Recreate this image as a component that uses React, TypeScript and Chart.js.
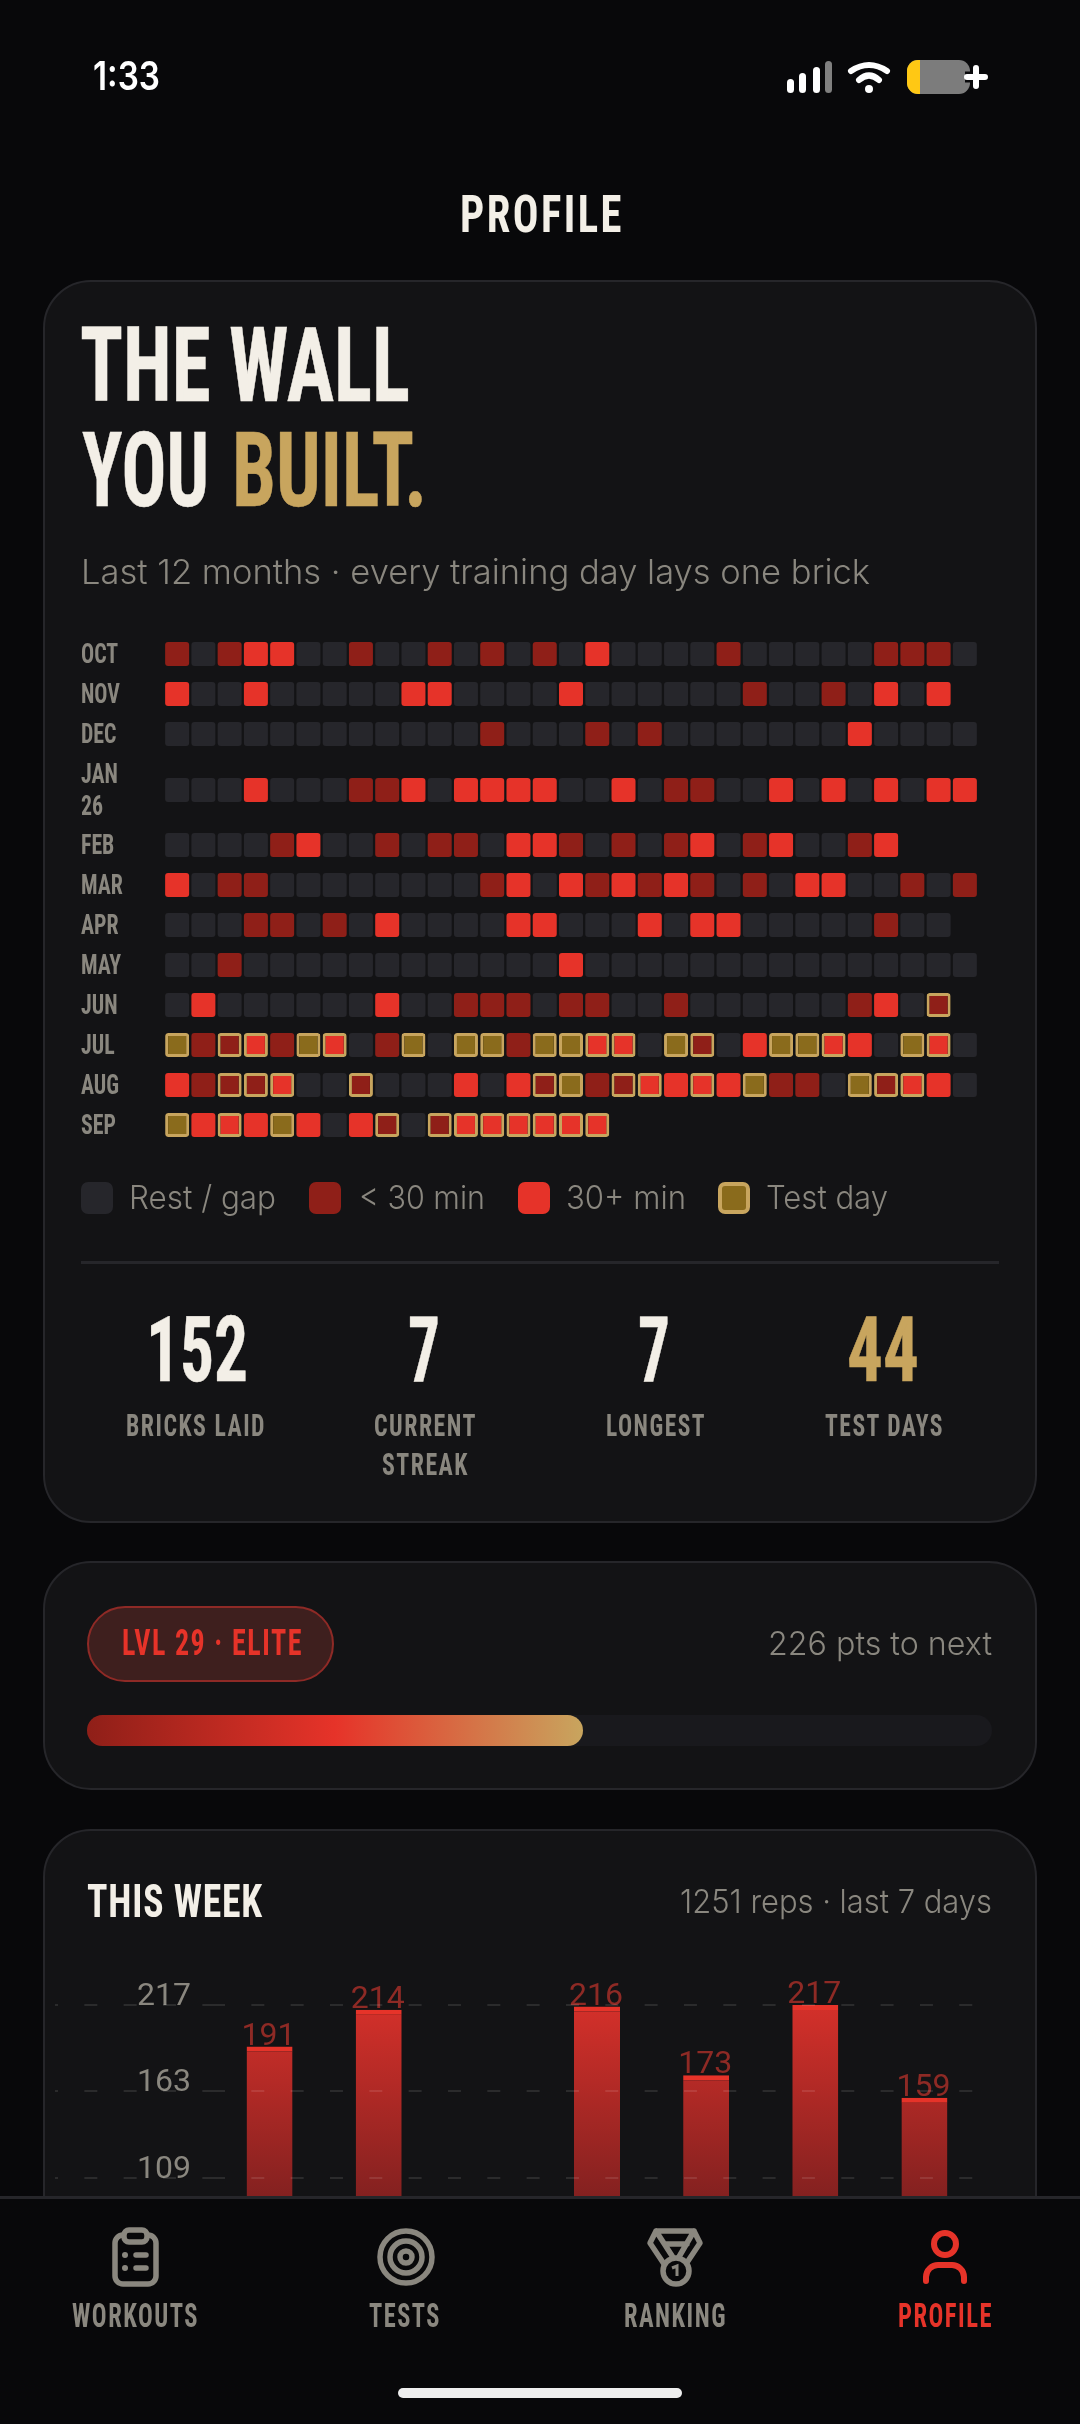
import React, { useEffect, useRef } from 'react';
import { Chart, registerables } from 'chart.js';

Chart.register(...registerables);

// . rest, s under 30 min, l 30+ min, t test only, S test + short, L test + long
const octDays = 's.sll..s..s.s.s.l....s.....sss.';
const novDays = 'l..l.....ll....l......s..s.l.l';
const decDays = '............s...s.s.......l....';
const janDays = '...l...ssl.llll..l.ss..l.l.l.ll';
const febDays = '....sl..s.ss.lls.s.sl.sl..sl';
const marDays = 'l.ss........sl.lslsls.s.ll..s.s';
const aprDays = '...ss.s.l....ll...l.ll.....s..';
const mayDays = '..s............l...............';
const junDays = '.l......l..sss.ss..s......sl.S';
const julDays = 'tsSLstL.st.ttsttLL.tS.lttLl.tL.';
const augDays = 'lsSSL..S...l.lStsSLlLltss.tSLl.';
const sepDays = 'tlLltl.lS.SLLLLLL';

const wallMonths = [octDays, novDays, decDays, janDays, febDays, marDays, aprDays, mayDays, junDays, julDays, augDays, sepDays];
const monthLabels = [['OCT'], ['NOV'], ['DEC'], ['JAN', '26'], ['FEB'], ['MAR'], ['APR'], ['MAY'], ['JUN'], ['JUL'], ['AUG'], ['SEP']];
const dayLabels = Array.from({ length: 31 }, (_, i) => String(i + 1));

const weekDays = ['1', '2', '3', '4', '5', '6', '7'];
const weekReps = [191, 214, 81, 216, 173, 217, 159];
const weekTicks = [0, 54, 109, 163, 217];

const levelProgress = 0.548;

const RED = '#e63329';
const DARK_RED = '#8f1f18';
const GOLD = '#c8a55e';
const OLIVE = '#8a6b1c';
const REST = '#26262b';
const CREAM = '#f3efe7';
const MUTED = '#8a877f';
const BG = '#08080a';
const CARD = '#131315';
const LINE = '#26262a';

const DISPLAY = '"Roboto Condensed", "Open Sans Condensed", sans-serif';
const BODY = 'Inter, sans-serif';

const wallKinds = [
    { code: '.', fill: REST, border: REST, width: 0 },
    { code: 's', fill: DARK_RED, border: DARK_RED, width: 0 },
    { code: 'l', fill: RED, border: RED, width: 0 },
    { code: 't', fill: OLIVE, border: GOLD, width: 3 },
    { code: 'S', fill: DARK_RED, border: GOLD, width: 3 },
    { code: 'L', fill: RED, border: GOLD, width: 3 }
];

// JAN wraps onto two lines, so the rows either side of it sit further apart
const rowValue = (i: number) => i + (i >= 3 ? 0.4 : 0) + (i >= 4 ? 0.375 : 0);

const monthLabelPlugin = {
    id: 'monthLabels',
    afterDraw(chart: any) {
        const { ctx, scales } = chart;
        monthLabels.forEach((lines, i) => {
            const py = scales.y.getPixelForValue(rowValue(i));
            lines.forEach((text, j) => {
                ctx.save();
                ctx.font = `700 28px ${DISPLAY}`;
                ctx.fillStyle = MUTED;
                ctx.textBaseline = 'alphabetic';
                ctx.translate(81, py + 9 - 16 * (lines.length - 1) + 32 * j);
                ctx.scale(0.78, 1);
                ctx.fillText(text, 0, 0);
                ctx.restore();
            });
        });
    }
};

function WallChart() {
    const canvasRef = useRef<HTMLCanvasElement>(null);

    useEffect(() => {
        if (!canvasRef.current) return;
        const datasets = wallKinds.map(kind => ({
            data: wallMonths.flatMap((days, row) =>
                days.split('').flatMap((code, day) =>
                    code === kind.code ? [{ x: dayLabels[day], y: [rowValue(row) - 0.3, rowValue(row) + 0.3] }] : []
                )
            ),
            backgroundColor: kind.fill,
            borderColor: kind.border,
            borderWidth: kind.width,
            borderSkipped: false,
            borderRadius: 3,
            inflateAmount: 0,
            barThickness: 24,
            grouped: false
        }));
        const chart = new Chart(canvasRef.current, {
            type: 'bar',
            data: { labels: dayLabels, datasets } as any,
            options: {
                animation: false,
                responsive: false,
                devicePixelRatio: 1,
                layout: { padding: { left: 164, right: 102, top: 14, bottom: 5 } },
                plugins: { legend: { display: false }, tooltip: { enabled: false } },
                scales: {
                    x: { display: false, offset: true },
                    y: { display: false, reverse: true, min: -0.5, max: rowValue(11) + 0.5 }
                }
            } as any,
            plugins: [monthLabelPlugin]
        });
        return () => chart.destroy();
    }, []);

    return <canvas ref={canvasRef} width={1080} height={530} style={{ position: 'absolute', left: 0, top: 620 }} />;
}

const valueLabelPlugin = {
    id: 'valueLabels',
    afterDatasetsDraw(chart: any) {
        const { ctx } = chart;
        chart.getDatasetMeta(0).data.forEach((bar: any, i: number) => {
            ctx.save();
            ctx.font = '400 32px Roboto, sans-serif';
            ctx.fillStyle = '#8e2a25';
            ctx.textAlign = 'center';
            ctx.textBaseline = 'alphabetic';
            ctx.fillText(String(weekReps[i]), bar.x - 1, bar.y - 2);
            ctx.restore();
        });
    }
};

function WeekChart() {
    const canvasRef = useRef<HTMLCanvasElement>(null);

    useEffect(() => {
        if (!canvasRef.current) return;
        const chart = new Chart(canvasRef.current, {
            type: 'bar',
            data: {
                labels: weekDays,
                datasets: [
                    {
                        data: weekReps,
                        barThickness: 46,
                        inflateAmount: 0,
                        borderColor: RED,
                        borderWidth: { top: 5, left: 0, right: 0, bottom: 0 },
                        borderSkipped: false,
                        backgroundColor: (c: any) => {
                            const area = c.chart.chartArea;
                            if (!area) return RED;
                            const g = c.chart.ctx.createLinearGradient(0, area.top, 0, area.bottom);
                            g.addColorStop(0, '#d4302a');
                            g.addColorStop(0.55, '#842120');
                            g.addColorStop(1, '#4a1715');
                            return g;
                        }
                    }
                ]
            } as any,
            options: {
                animation: false,
                responsive: false,
                devicePixelRatio: 1,
                layout: { padding: { top: 45, right: 15, bottom: 20 } },
                plugins: { legend: { display: false }, tooltip: { enabled: false } },
                scales: {
                    x: { display: false },
                    y: {
                        min: 0,
                        max: 217,
                        afterBuildTicks: (s: any) => {
                            s.ticks = weekTicks.map(value => ({ value }));
                        },
                        afterFit: (s: any) => {
                            s.width = 171;
                        },
                        border: { display: false, dash: [13, 26.33], dashOffset: 3 },
                        grid: {
                            z: 1,
                            color: 'rgba(255,255,255,0.1)',
                            lineWidth: 2,
                            tickLength: 160,
                            tickColor: 'rgba(255,255,255,0.1)',
                            tickWidth: 2,
                            tickBorderDash: [13, 26.33],
                            tickBorderDashOffset: 10
                        },
                        ticks: {
                            autoSkip: false,
                            color: MUTED,
                            padding: -136,
                            labelOffset: -8,
                            font: { family: 'Roboto, sans-serif', size: 32, weight: '400' },
                            callback: (v: any) => String(v)
                        }
                    }
                }
            } as any,
            plugins: [valueLabelPlugin]
        });
        return () => chart.destroy();
    }, []);

    return <canvas ref={canvasRef} width={950} height={412} style={{ position: 'absolute', left: 44, top: 1960 }} />;
}

function Card({ top, height }: { top: number; height: number }) {
    return (
        <div
            style={{
                position: 'absolute',
                left: 43,
                top,
                width: 994,
                height,
                boxSizing: 'border-box',
                background: CARD,
                border: `2.5px solid ${LINE}`,
                borderRadius: 48
            }}
        />
    );
}

function Txt({ x, y, w, size, color = CREAM, font = DISPLAY, weight = 700, spacing = 0, bold = 0, children }: any) {
    return (
        <text
            x={x}
            y={y}
            textLength={w + spacing}
            lengthAdjust="spacingAndGlyphs"
            fontFamily={font}
            fontWeight={weight}
            fontSize={size}
            fill={color}
            stroke={bold ? color : 'none'}
            strokeWidth={bold}
            letterSpacing={spacing}
        >
            {children}
        </text>
    );
}

function Swatch({ x, fill, border }: { x: number; fill: string; border?: string }) {
    return (
        <div
            style={{
                position: 'absolute',
                left: x,
                top: 1182,
                width: 32,
                height: 32,
                boxSizing: 'border-box',
                borderRadius: 7,
                background: fill,
                border: border ? `4px solid ${border}` : 'none'
            }}
        />
    );
}

const overlay: React.CSSProperties = { position: 'absolute', left: 0, top: 0 };

export default function App() {
    useEffect(() => {
        document.body.style.margin = '0';
        document.body.style.background = BG;
    }, []);

    return (
        <div style={{ position: 'relative', width: 1080, height: 2424, overflow: 'hidden', background: BG }}>
            <Card top={280} height={1243} />
            <Card top={1561} height={229} />
            <Card top={1829} height={500} />

            <Swatch x={81} fill={REST} />
            <Swatch x={309} fill={DARK_RED} />
            <Swatch x={518} fill={RED} />
            <Swatch x={718} fill={OLIVE} border={GOLD} />
            <div style={{ position: 'absolute', left: 81, top: 1261, width: 918, height: 2.5, background: LINE }} />

            <div
                style={{
                    position: 'absolute',
                    left: 87,
                    top: 1606,
                    width: 247,
                    height: 76,
                    boxSizing: 'border-box',
                    borderRadius: 38,
                    background: '#3e1f1e',
                    border: '2.5px solid #8e2a26'
                }}
            />
            <div style={{ position: 'absolute', left: 87, top: 1715, width: 905, height: 31, borderRadius: 15.5, background: '#19191d' }}>
                <div
                    style={{
                        width: `${levelProgress * 100}%`,
                        height: '100%',
                        borderRadius: 15.5,
                        background: `linear-gradient(90deg, ${DARK_RED}, ${RED} 50%, ${GOLD})`
                    }}
                />
            </div>

            <WallChart />
            <WeekChart />

            <svg width={1080} height={2424} style={overlay}>
                <Txt x={93} y={90} w={67} size={39} color="#fff" font={BODY} weight={600}>1:33</Txt>
                <g fill="#fff">
                    <rect x={787} y={79} width={7} height={14} rx={3.5} />
                    <rect x={799} y={73} width={7} height={20} rx={3.5} />
                    <rect x={813} y={67} width={7} height={26} rx={3.5} />
                    <rect x={825} y={61} width={7} height={32} rx={3.5} fill="#808080" />
                    <circle cx={869} cy={89} r={4} />
                </g>
                <g fill="none" stroke="#fff" strokeWidth={6} strokeLinecap="round">
                    <path d="M851 71 Q869 59 887 71" />
                    <path d="M859 80 Q869 71 879 80" />
                </g>
                <rect x={907} y={60} width={63} height={34} rx={11} fill="#7c7c7c" />
                <path d="M920 60 H918 a11 11 0 0 0 -11 11 V83 a11 11 0 0 0 11 11 H920 Z" fill="#ffc814" />
                <path d="M976 66 V88 M965 77 H987" stroke={BG} strokeWidth={11} />
                <path d="M976 68 V86 M967 77 H985" stroke="#fff" strokeWidth={6} strokeLinecap="round" />

                <Txt x={460} y={232} w={161} size={52} spacing={3}>PROFILE</Txt>
                <Txt x={80} y={401} w={330} size={104} bold={0.5}>THE WALL</Txt>
                <Txt x={82} y={506} w={127} size={104} bold={0.5}>YOU</Txt>
                <Txt x={232} y={506} w={195} size={104} color={GOLD} bold={0.5}>BUILT.</Txt>
                <Txt x={81} y={584} w={789} size={34} color={MUTED} font={BODY} weight={300}>Last 12 months · every training day lays one brick</Txt>

                <Txt x={129} y={1209} w={147} size={33} color={MUTED} font={BODY} weight={300}>Rest / gap</Txt>
                <Txt x={359} y={1209} w={126} size={33} color={MUTED} font={BODY} weight={300}>&lt; 30 min</Txt>
                <Txt x={566} y={1209} w={120} size={33} color={MUTED} font={BODY} weight={300}>30+ min</Txt>
                <Txt x={766} y={1209} w={122} size={33} color={MUTED} font={BODY} weight={300}>Test day</Txt>

                <Txt x={146} y={1381} w={102} size={90} bold={0.5}>152</Txt>
                <Txt x={408} y={1381} w={32} size={90} bold={0.5}>7</Txt>
                <Txt x={638} y={1381} w={32} size={90} bold={0.5}>7</Txt>
                <Txt x={847} y={1381} w={72} size={90} color={GOLD} bold={0.5}>44</Txt>

                <Txt x={126} y={1436} w={138} size={32} color={MUTED} spacing={2}>BRICKS LAID</Txt>
                <Txt x={374} y={1436} w={101} size={32} color={MUTED} spacing={2}>CURRENT</Txt>
                <Txt x={382} y={1475} w={85} size={32} color={MUTED} spacing={2}>STREAK</Txt>
                <Txt x={606} y={1436} w={98} size={32} color={MUTED} spacing={2}>LONGEST</Txt>
                <Txt x={825} y={1436} w={117} size={32} color={MUTED} spacing={2}>TEST DAYS</Txt>

                <Txt x={122} y={1655} w={179} size={36} color={RED} spacing={2}>LVL 29 · ELITE</Txt>
                <Txt x={768} y={1655} w={224} size={33} color={MUTED} font={BODY} weight={300}>226 pts to next</Txt>

                <Txt x={87} y={1917} w={175} size={47} spacing={1}>THIS WEEK</Txt>
                <Txt x={680} y={1913} w={312} size={33} color={MUTED} font={BODY} weight={300}>1251 reps · last 7 days</Txt>
            </svg>

            <div style={{ position: 'absolute', left: 0, top: 2196, width: 1080, height: 228, boxSizing: 'border-box', background: BG, borderTop: `3px solid ${LINE}` }} />

            <svg width={1080} height={2424} style={overlay}>
                <g fill="none" stroke={MUTED} strokeWidth={5.5} strokeLinecap="round" strokeLinejoin="round">
                    <rect x={115} y={2235} width={41} height={49} rx={8} />
                    <rect x={124} y={2230} width={23} height={12} rx={5} fill={BG} />
                    <path d="M136 2255 H146 M136 2268 H146" />
                    <circle cx={406} cy={2257} r={26} />
                    <circle cx={406} cy={2257} r={16} />
                    <circle cx={406} cy={2257} r={6} />
                    <path d="M656 2231 H694 L700 2243 L686 2264 M656 2231 L650 2243 L664 2264 M656 2231 L676 2262 L694 2231 M665 2244 H687" />
                    <circle cx={676} cy={2271} r={13} fill={BG} />
                </g>
                <circle cx={125} cy={2255} r={3} fill={MUTED} />
                <circle cx={125} cy={2268} r={3} fill={MUTED} />
                <path d="M672 2268 L677 2266 V2276" fill="none" stroke={MUTED} strokeWidth={3} />
                <g fill="none" stroke={RED} strokeWidth={6} strokeLinecap="round">
                    <circle cx={945} cy={2244} r={11} />
                    <path d="M926 2281 V2277 C926 2270 932 2265 938 2265 H952 C958 2265 964 2270 964 2277 V2281" />
                </g>

                <Txt x={72} y={2327} w={125} size={33} color={MUTED} spacing={2}>WORKOUTS</Txt>
                <Txt x={369} y={2327} w={70} size={33} color={MUTED} spacing={2}>TESTS</Txt>
                <Txt x={624} y={2327} w={101} size={33} color={MUTED} spacing={2}>RANKING</Txt>
                <Txt x={898} y={2327} w={93} size={33} color={RED} spacing={2}>PROFILE</Txt>
            </svg>

            <div style={{ position: 'absolute', left: 398, top: 2388, width: 284, height: 10, borderRadius: 5, background: '#eee' }} />
        </div>
    );
}
